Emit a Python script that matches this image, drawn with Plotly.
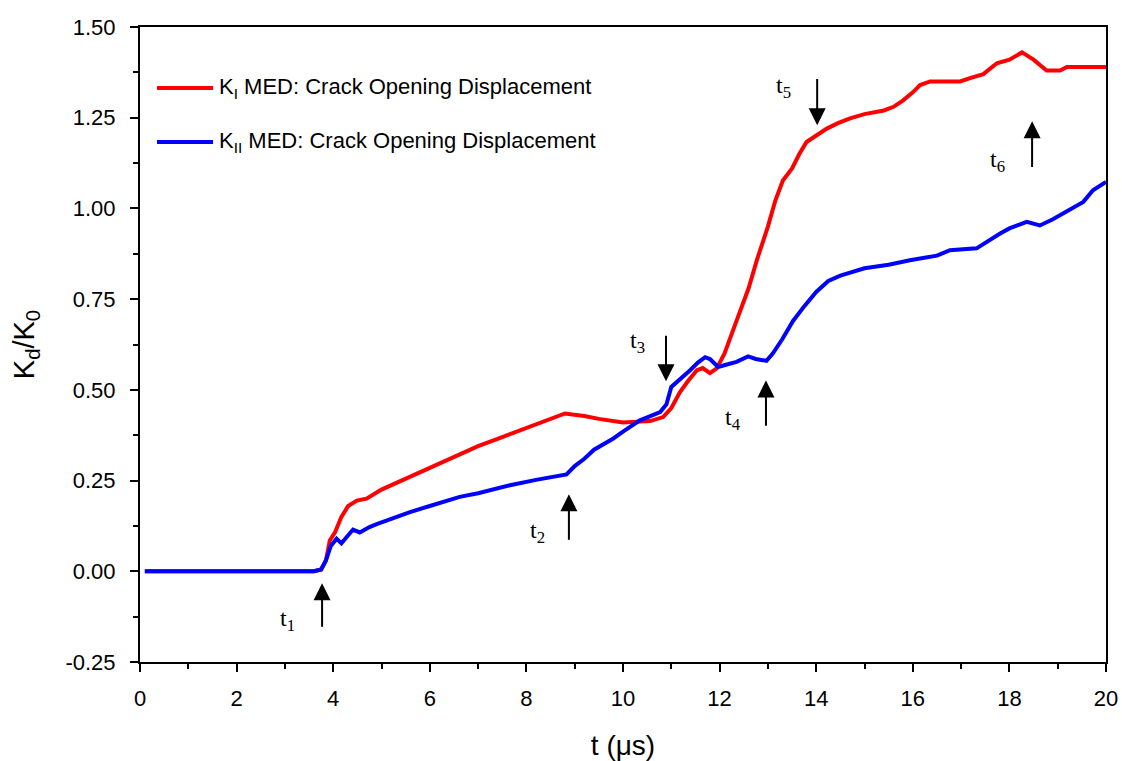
import plotly.graph_objects as go

# KI series
t_ki = [0.1, 3.6, 3.75, 3.85, 3.93, 4.04, 4.17, 4.31, 4.49, 4.69, 5.0, 5.5, 6.0, 6.5, 7.0, 7.5,
        8.0, 8.5, 8.7, 8.8, 8.95, 9.2, 9.5, 10.0, 10.56, 10.83, 11.0, 11.18, 11.35, 11.53, 11.65,
        11.8, 11.94, 12.1, 12.35, 12.6, 12.77, 13.0, 13.15, 13.31, 13.5, 13.65, 13.8, 14.0,
        14.22, 14.45, 14.7, 15.0, 15.4, 15.6, 15.8, 16.0, 16.15, 16.36, 16.98, 17.2, 17.46,
        17.74, 18.0, 18.26, 18.5, 18.77, 19.05, 19.19, 20.0]
k_i = [0, 0, 0.005, 0.03, 0.085, 0.108, 0.15, 0.18, 0.195, 0.20, 0.225, 0.255, 0.285, 0.315,
       0.345, 0.37, 0.395, 0.418, 0.429, 0.435, 0.432, 0.428, 0.42, 0.41, 0.414, 0.425, 0.45,
       0.494, 0.525, 0.554, 0.56, 0.546, 0.559, 0.6, 0.69, 0.78, 0.857, 0.95, 1.02, 1.077, 1.11,
       1.15, 1.183, 1.2, 1.22, 1.235, 1.248, 1.26, 1.27, 1.28, 1.298, 1.32, 1.34, 1.35, 1.35,
       1.36, 1.37, 1.40, 1.41, 1.43, 1.41, 1.38, 1.38, 1.39, 1.39]

# KII series
t_kii = [0.1, 3.6, 3.75, 3.85, 3.95, 4.07, 4.17, 4.3, 4.41, 4.55, 4.75, 4.9, 5.2, 5.59, 6.0,
         6.62, 7.0, 7.66, 8.2, 8.7, 8.83, 9.0, 9.2, 9.4, 9.6, 9.8, 10.0, 10.35, 10.77, 10.9,
         11.0, 11.2, 11.39, 11.55, 11.7, 11.8, 11.97, 12.15, 12.35, 12.59, 12.75, 12.97, 13.1,
         13.3, 13.52, 13.75, 14.0, 14.25, 14.5, 15.0, 15.5, 15.94, 16.5, 16.77, 17.32, 17.8,
         18.0, 18.36, 18.63, 18.9, 19.25, 19.53, 19.73, 20.0]
k_ii = [0, 0, 0.005, 0.03, 0.07, 0.09, 0.077, 0.1, 0.115, 0.107, 0.122, 0.13, 0.145, 0.163,
        0.18, 0.205, 0.215, 0.237, 0.252, 0.265, 0.267, 0.29, 0.31, 0.335, 0.35, 0.366, 0.385,
        0.416, 0.439, 0.46, 0.508, 0.53, 0.554, 0.575, 0.59, 0.585, 0.563, 0.57, 0.577, 0.592,
        0.585, 0.58, 0.6, 0.64, 0.69, 0.73, 0.77, 0.80, 0.815, 0.835, 0.845, 0.857, 0.87,
        0.885, 0.89, 0.93, 0.945, 0.963, 0.953, 0.97, 0.995, 1.018, 1.05, 1.073]

series_names = ["K<sub>I</sub> MED: Crack Opening Displacement",
                "K<sub>II</sub> MED: Crack Opening Displacement"]
series_colors = ["#ff0000", "#0000ff"]

# Axis ticks
x_ticks = [0, 2, 4, 6, 8, 10, 12, 14, 16, 18, 20]
y_ticks = [-0.25, 0.0, 0.25, 0.5, 0.75, 1.0, 1.25, 1.5]
y_tick_labels = ["-0.25", "0.00", "0.25", "0.50", "0.75", "1.00", "1.25", "1.50"]

# Event markers: label, x, arrow tip y, arrow tail y, label x, label y
ev_labels = ["t<sub>1</sub>", "t<sub>2</sub>", "t<sub>3</sub>", "t<sub>4</sub>", "t<sub>5</sub>", "t<sub>6</sub>"]
ev_x = [3.77, 8.88, 10.89, 12.96, 14.02, 18.47]
ev_tip = [-0.033, 0.212, 0.524, 0.526, 1.229, 1.24]
ev_tail = [-0.157, 0.083, 0.653, 0.397, 1.361, 1.11]
ev_lx = [3.06, 8.22, 10.29, 12.28, 13.33, 17.76]
ev_ly = [-0.135, 0.107, 0.631, 0.42, 1.334, 1.13]

fig = go.Figure()
fig.add_trace(go.Scatter(x=t_ki, y=k_i, mode="lines", line=dict(color=series_colors[0], width=4),
                         name=series_names[0], showlegend=False))
fig.add_trace(go.Scatter(x=t_kii, y=k_ii, mode="lines", line=dict(color=series_colors[1], width=4),
                         name=series_names[1], showlegend=False))

# Legend drawn in paper coordinates
leg_y = [0.904, 0.819]
for name, col, ly in zip(series_names, series_colors, leg_y):
    fig.add_shape(type="line", xref="paper", yref="paper", x0=0.0176, x1=0.0756, y0=ly, y1=ly,
                  line=dict(color=col, width=4))
    fig.add_annotation(xref="paper", yref="paper", x=0.080, y=ly, xanchor="left", yanchor="middle",
                       text=name, showarrow=False,
                       font=dict(family="Liberation Sans", size=22, color="black"))

for lab, x, tip, tail, lx, ly in zip(ev_labels, ev_x, ev_tip, ev_tail, ev_lx, ev_ly):
    fig.add_annotation(x=x, y=tip, ax=x, ay=tail, axref="x", ayref="y", xref="x", yref="y",
                       showarrow=True, arrowhead=2, arrowsize=1.7, arrowwidth=2, arrowcolor="black",
                       text="")
    fig.add_annotation(x=lx, y=ly, xref="x", yref="y", text=lab, showarrow=False,
                       font=dict(family="Liberation Serif", size=24, color="black"))

axis_common = dict(showgrid=False, zeroline=False, showline=True, linecolor="black", linewidth=2,
                   mirror=True, ticks="outside", ticklen=8, tickwidth=2, tickcolor="black",
                   tickfont=dict(family="Liberation Sans", size=22, color="black"))

fig.update_xaxes(range=[0, 20], tickvals=x_ticks, ticklabelstandoff=8, automargin=False,
                 minor=dict(dtick=1, ticks="outside", ticklen=5, tickwidth=2, tickcolor="black"),
                 title=dict(text="t (μs)", font=dict(family="Liberation Sans", size=28, color="black"),
                            standoff=26),
                 **axis_common)
fig.update_yaxes(range=[-0.25, 1.5], tickvals=y_ticks, ticktext=y_tick_labels, ticklabelstandoff=10,
                 minor=dict(dtick=0.125, ticks="outside", ticklen=5, tickwidth=2, tickcolor="black"),
                 title=dict(text="K<sub>d</sub>/K<sub>0</sub>",
                            font=dict(family="Liberation Sans", size=29, color="black"), standoff=22),
                 **axis_common)

fig.update_layout(
    width=1122, height=761,
    margin=dict(l=140, r=16, t=27, b=99),
    paper_bgcolor="white", plot_bgcolor="white",
    showlegend=False,
)

fig.write_html("out.html")
